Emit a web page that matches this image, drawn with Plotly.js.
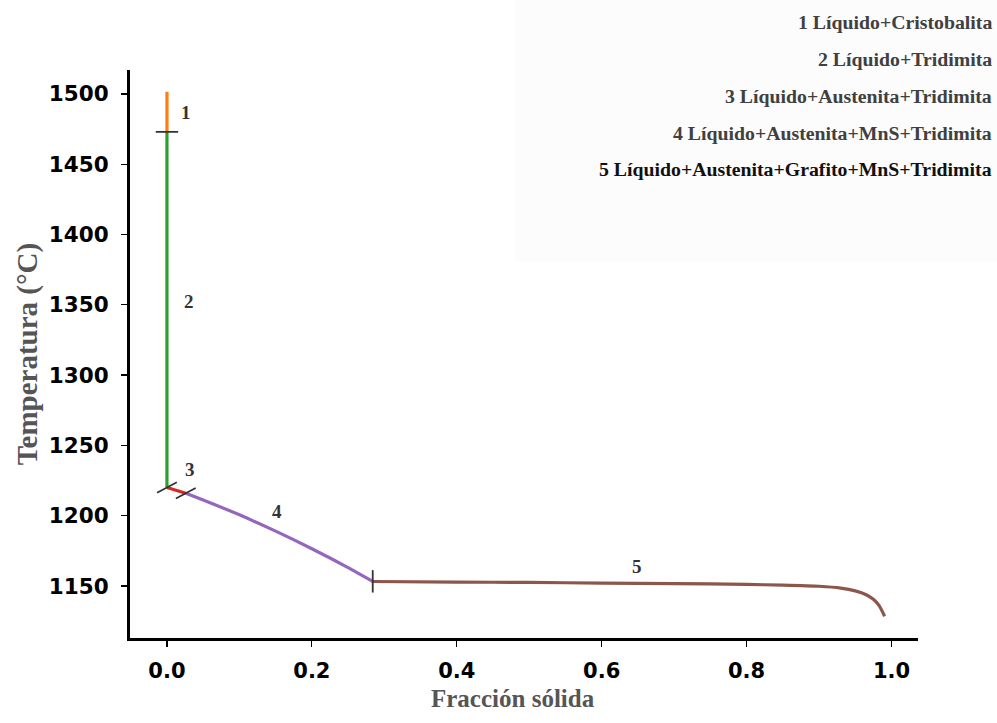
<!DOCTYPE html>
<html>
<head>
<meta charset="utf-8">
<script src="https://cdn.plot.ly/plotly-3.0.1.min.js"></script>
<style>html,body{margin:0;padding:0;background:#fff;}#chart{width:997px;height:723px;}</style>
</head>
<body>
<div id="chart"></div>
<script>
// ---- data ----
var seg1X = [0, 0];
var seg1Y = [1501.5, 1473];
var seg2X = [0, 0];
var seg2Y = [1473, 1220];
var seg3X = [0, 0.026];
var seg3Y = [1220, 1216];
var seg4X = [0.026, 0.05, 0.1, 0.15, 0.2, 0.25, 0.284];
var seg4Y = [1216, 1211.2, 1200.6, 1189.0, 1176.5, 1163.1, 1153.3];
var seg5X = [0.284, 0.4, 0.5, 0.6, 0.7, 0.8, 0.85, 0.9, 0.93, 0.95, 0.965, 0.975, 0.983, 0.9905];
var seg5Y = [1153.2, 1152.8, 1152.5, 1152.1, 1151.7, 1151.1, 1150.6, 1149.8, 1148.5, 1146.5, 1143.8, 1140.5, 1136, 1128.5];

var boundX = [0, 0, 0.026, 0.284];
var boundY = [1473, 1220, 1216, 1153.3];
var boundAngle = [0, -28, -28, 90];

var labelText = ['1', '2', '3', '4', '5'];
var labelX = [0.026, 0.031, 0.032, 0.152, 0.649];
var labelY = [1487, 1352, 1233, 1203, 1164];

var legendLines = [
  '1 Líquido+Cristobalita',
  '2 Líquido+Tridimita',
  '3 Líquido+Austenita+Tridimita',
  '4 Líquido+Austenita+MnS+Tridimita',
  '5 Líquido+Austenita+Grafito+MnS+Tridimita'
];
var legendColors = ['#404040', '#404040', '#404040', '#404040', '#111111'];

var xTickVals = [0, 0.2, 0.4, 0.6, 0.8, 1.0];
var xTickText = ['0.0', '0.2', '0.4', '0.6', '0.8', '1.0'];
var yTickVals = [1150, 1200, 1250, 1300, 1350, 1400, 1450, 1500];

var xTitle = 'Fracción sólida';
var yTitle = 'Temperatura (°C)';

var segColors = ['#ff7f0e', '#2ca02c', '#d62728', '#9467bd', '#8c564b'];

// ---- traces ----
var segs = [[seg1X, seg1Y], [seg2X, seg2Y], [seg3X, seg3Y], [seg4X, seg4Y], [seg5X, seg5Y]];
var traces = segs.map(function (s, i) {
  return {
    x: s[0], y: s[1], type: 'scatter', mode: 'lines',
    line: {color: segColors[i], width: 3.2, shape: 'spline', smoothing: 0.6},
    hoverinfo: 'skip'
  };
});
traces.push({
  x: boundX, y: boundY, type: 'scatter', mode: 'markers',
  marker: {symbol: 'line-ew', size: 16, angle: boundAngle,
           color: '#333', line: {color: '#333', width: 1.8}},
  hoverinfo: 'skip'
});

var annotations = labelText.map(function (t, i) {
  return {x: labelX[i], y: labelY[i], xref: 'x', yref: 'y', text: '<b>' + t + '</b>',
          showarrow: false, font: {family: 'Liberation Serif', size: 19, color: '#333'}};
});
var legendYs = [1.0845, 1.0194, 0.9542, 0.8891, 0.8257];
legendLines.forEach(function (t, i) {
  annotations.push({x: 1.097, y: legendYs[i], xref: 'paper', yref: 'paper', xanchor: 'right',
    yanchor: 'middle', text: '<b>' + t + '</b>', showarrow: false,
    font: {family: 'Liberation Serif', size: 19.8, color: legendColors[i]}});
});
annotations.push({x: 0.486, y: -0.107, xref: 'paper', yref: 'paper', xanchor: 'center',
  yanchor: 'middle', text: '<b>' + xTitle + '</b>', showarrow: false,
  font: {family: 'Liberation Serif', size: 25, color: '#555'}});

var layout = {
  width: 997, height: 723,
  margin: {l: 130, r: 79, t: 70, b: 85},
  paper_bgcolor: '#ffffff', plot_bgcolor: '#ffffff',
  showlegend: false,
  shapes: [{type: 'rect', xref: 'paper', yref: 'paper', x0: 0.4886, x1: 1.11, y0: 0.662, y1: 1.13,
            fillcolor: '#fcfcfc', line: {width: 0}, layer: 'below'}],
  xaxis: {
    range: [-0.051, 1.0366], tickvals: xTickVals, ticktext: xTickText,
    showline: true, linecolor: '#000', linewidth: 3, ticks: 'outside', ticklen: 6,
    tickwidth: 1.2, tickcolor: '#000', showgrid: false, zeroline: false,
    tickfont: {family: 'DejaVu Sans', size: 21, color: '#000', weight: 'bold'},
    ticklabelstandoff: 6
  },
  yaxis: {
    range: [1113, 1517], tickvals: yTickVals,
    showline: true, linecolor: '#000', linewidth: 3, ticks: 'outside', ticklen: 6,
    tickwidth: 1.2, tickcolor: '#000', showgrid: false, zeroline: false,
    tickfont: {family: 'DejaVu Sans', size: 21.5, color: '#000', weight: 'bold'},
    ticklabelstandoff: 8,
    title: {text: yTitle, standoff: 3,
            font: {family: 'Liberation Serif', size: 29, color: '#555', weight: 'bold'}}
  },
  annotations: annotations
};

Plotly.newPlot('chart', traces, layout, {displayModeBar: false, staticPlot: true});
</script>
</body>
</html>
